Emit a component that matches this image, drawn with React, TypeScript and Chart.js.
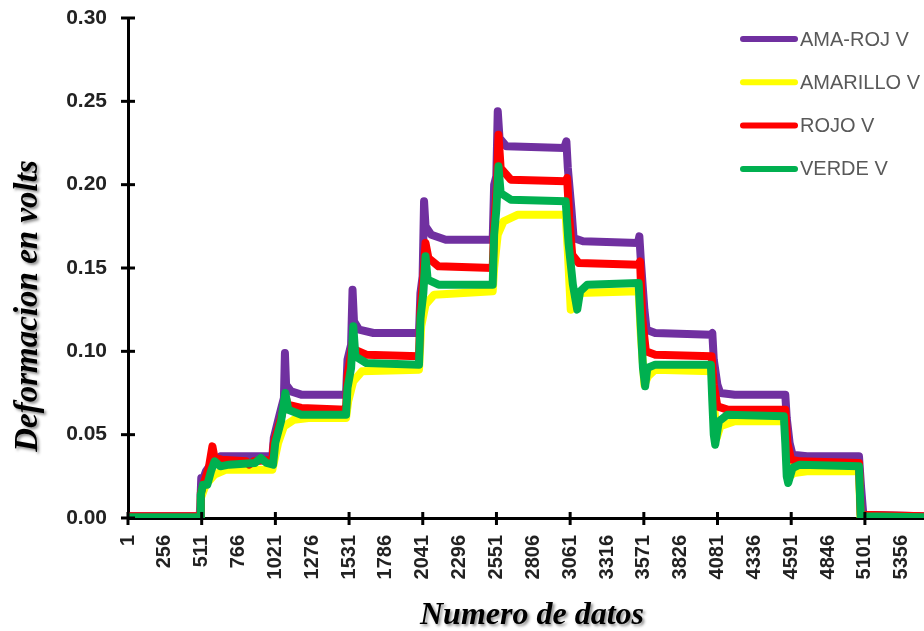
import React, { useEffect, useRef } from 'react';
import { Chart, registerables } from 'chart.js';

Chart.register(...registerables);

// ---- Axis data ----
const X_MIN = 1;
const X_MAX = 5510;
const X_TICK_LABELS = [1, 256, 511, 766, 1021, 1276, 1531, 1786, 2041, 2296, 2551, 2806, 3061, 3316, 3571, 3826, 4081, 4336, 4591, 4846, 5101, 5356];
const Y_MIN = 0;
const Y_MAX = 0.3;
const Y_STEP = 0.05;

const X_TITLE = 'Numero de datos';
const Y_TITLE = 'Deformacion en volts';

// ---- Series ----
const SERIES_NAMES = ['AMA-ROJ V', 'AMARILLO V', 'ROJO V', 'VERDE V'];
const SERIES_COLORS = ['#7030A0', '#FFFF00', '#FF0000', '#00B050'];

const AMA_ROJ_X = [1, 497, 503, 508, 515, 540, 580, 640, 1000, 1010, 1050, 1080, 1087, 1095, 1130, 1200, 1510, 1520, 1545, 1555, 1565, 1600, 1700, 2015, 2025, 2040, 2050, 2060, 2100, 2200, 2525, 2535, 2550, 2560, 2572, 2620, 3020, 3035, 3045, 3070, 3085, 3150, 3530, 3540, 3550, 3575, 3590, 3650, 4035, 4045, 4055, 4080, 4100, 4200, 4550, 4560, 4580, 4600, 4700, 5060, 5075, 5090, 5510];
const AMA_ROJ_Y = [0.001, 0.001, 0.012, 0.024, 0.022, 0.028, 0.033, 0.037, 0.037, 0.048, 0.062, 0.072, 0.099, 0.08, 0.076, 0.074, 0.074, 0.095, 0.104, 0.137, 0.118, 0.113, 0.111, 0.111, 0.135, 0.145, 0.19, 0.175, 0.17, 0.167, 0.167, 0.2, 0.205, 0.244, 0.228, 0.223, 0.222, 0.226, 0.21, 0.185, 0.168, 0.166, 0.165, 0.169, 0.155, 0.125, 0.113, 0.111, 0.11, 0.111, 0.095, 0.08, 0.075, 0.074, 0.074, 0.06, 0.045, 0.038, 0.037, 0.037, 0.018, 0.002, 0.001];

const AMARILLO_X = [1, 500, 505, 540, 600, 680, 1000, 1015, 1040, 1080, 1150, 1250, 1510, 1525, 1560, 1620, 2015, 2030, 2060, 2120, 2525, 2535, 2560, 2600, 2700, 3030, 3045, 3065, 3080, 3120, 3535, 3550, 3575, 3600, 3650, 4045, 4055, 4075, 4100, 4200, 4550, 4565, 4580, 4610, 4700, 5060, 5070, 5510];
const AMARILLO_Y = [0.0005, 0.0005, 0.012, 0.02, 0.026, 0.029, 0.029, 0.035, 0.045, 0.055, 0.059, 0.06, 0.06, 0.07, 0.082, 0.088, 0.089, 0.115, 0.128, 0.134, 0.136, 0.15, 0.17, 0.178, 0.182, 0.182, 0.16, 0.125, 0.13, 0.135, 0.136, 0.11, 0.08, 0.085, 0.089, 0.088, 0.07, 0.048, 0.055, 0.058, 0.058, 0.04, 0.025, 0.027, 0.028, 0.028, 0.001, 0.0005];

const ROJO_X = [1, 500, 505, 530, 560, 585, 600, 650, 820, 840, 870, 1000, 1010, 1060, 1095, 1105, 1200, 1510, 1520, 1555, 1570, 1650, 2015, 2025, 2045, 2060, 2080, 2150, 2525, 2535, 2555, 2565, 2580, 2650, 3030, 3040, 3055, 3075, 3120, 3535, 3545, 3560, 3585, 3650, 4040, 4055, 4080, 4150, 4550, 4565, 4590, 4650, 5060, 5072, 5510];
const ROJO_Y = [0.001, 0.001, 0.015, 0.022, 0.03, 0.043, 0.036, 0.035, 0.034, 0.032, 0.034, 0.035, 0.045, 0.06, 0.072, 0.068, 0.066, 0.065, 0.085, 0.105, 0.101, 0.098, 0.097, 0.125, 0.145, 0.165, 0.156, 0.151, 0.15, 0.175, 0.2, 0.23, 0.21, 0.203, 0.202, 0.204, 0.18, 0.158, 0.153, 0.152, 0.154, 0.12, 0.1, 0.098, 0.097, 0.08, 0.067, 0.065, 0.065, 0.045, 0.035, 0.034, 0.033, 0.002, 0.001];

const VERDE_X = [1, 500, 505, 520, 550, 575, 600, 640, 700, 880, 920, 960, 1005, 1020, 1060, 1090, 1110, 1200, 1510, 1520, 1545, 1560, 1575, 1650, 2015, 2025, 2045, 2060, 2075, 2150, 2525, 2535, 2550, 2565, 2580, 2650, 3030, 3050, 3080, 3110, 3130, 3180, 3535, 3550, 3565, 3580, 3595, 3650, 4035, 4045, 4055, 4065, 4090, 4150, 4540, 4550, 4560, 4570, 4600, 4650, 5060, 5072, 5510];
const VERDE_Y = [0.0005, 0.0005, 0.014, 0.02, 0.02, 0.028, 0.034, 0.031, 0.032, 0.033, 0.036, 0.033, 0.032, 0.045, 0.058, 0.075, 0.065, 0.062, 0.062, 0.078, 0.09, 0.115, 0.097, 0.093, 0.092, 0.12, 0.135, 0.157, 0.143, 0.14, 0.14, 0.17, 0.185, 0.211, 0.195, 0.191, 0.19, 0.165, 0.14, 0.125, 0.136, 0.14, 0.141, 0.115, 0.09, 0.079, 0.09, 0.092, 0.092, 0.07, 0.05, 0.044, 0.058, 0.062, 0.061, 0.045, 0.025, 0.021, 0.03, 0.032, 0.031, 0.001, 0.0005];

const SERIES_X = [AMA_ROJ_X, AMARILLO_X, ROJO_X, VERDE_X];
const SERIES_Y = [AMA_ROJ_Y, AMARILLO_Y, ROJO_Y, VERDE_Y];
const SERIES_ORDER = [4, 3, 2, 1];

const tickMarksPlugin = {
  id: 'tickMarks',
  afterDraw(chart: any) {
    const { ctx, scales } = chart;
    const x = scales.x;
    const y = scales.y;
    ctx.save();
    ctx.strokeStyle = '#000';
    ctx.lineWidth = 3;
    x.ticks.forEach((t: any, i: number) => {
      if (i % 2 !== 0) return;
      const px = x.getPixelForValue(t.value);
      ctx.beginPath();
      ctx.moveTo(px, y.bottom - 6);
      ctx.lineTo(px, y.bottom + 7);
      ctx.stroke();
    });
    y.ticks.forEach((t: any) => {
      const py = y.getPixelForValue(t.value);
      ctx.beginPath();
      ctx.moveTo(x.left - 7, py);
      ctx.lineTo(x.left + 7, py);
      ctx.stroke();
    });
    ctx.restore();
  },
};

const legendTitlesPlugin = {
  id: 'legendTitles',
  afterDraw(chart: any) {
    const { ctx } = chart;
    ctx.save();
    // legend
    chart.data.datasets.forEach((ds: any, i: number) => {
      const cy = 39 + i * 43.3;
      ctx.strokeStyle = ds.borderColor;
      ctx.lineWidth = 6;
      ctx.lineCap = 'round';
      ctx.beginPath();
      ctx.moveTo(743, cy);
      ctx.lineTo(795, cy);
      ctx.stroke();
      ctx.fillStyle = '#595959';
      ctx.font = '20px "Liberation Sans", Arial, sans-serif';
      ctx.textAlign = 'left';
      ctx.textBaseline = 'middle';
      ctx.fillText(ds.label, 800, cy + 1);
    });
    // axis titles with shadow
    ctx.fillStyle = '#000';
    ctx.shadowColor = 'rgba(0,0,0,0.45)';
    ctx.shadowOffsetX = 2;
    ctx.shadowOffsetY = 2;
    ctx.shadowBlur = 3;
    ctx.font = 'italic bold 32px "Liberation Serif", "Times New Roman", serif';
    ctx.textAlign = 'center';
    ctx.textBaseline = 'alphabetic';
    ctx.fillText(X_TITLE, 532, 624);
    ctx.font = 'italic bold 33px "Liberation Serif", "Times New Roman", serif';
    ctx.translate(37, 306);
    ctx.rotate(-Math.PI / 2);
    ctx.fillText(Y_TITLE, 0, 0);
    ctx.restore();
  },
};

export default function App() {
  const ref = useRef<HTMLCanvasElement | null>(null);

  useEffect(() => {
    document.body.style.margin = '0';
    const canvas = ref.current;
    if (!canvas) return;
    const datasets = SERIES_NAMES.map((name, i) => ({
      label: name,
      data: SERIES_X[i].map((x, j) => ({ x, y: SERIES_Y[i][j] })),
      borderColor: SERIES_COLORS[i],
      backgroundColor: SERIES_COLORS[i],
      borderWidth: 8,
      borderCapStyle: 'round' as const,
      borderJoinStyle: 'round' as const,
      pointRadius: 0,
      tension: 0,
      fill: false,
      order: SERIES_ORDER[i],
    }));
    const chart = new Chart(canvas, {
      type: 'line',
      data: { datasets },
      options: {
        animation: false,
        responsive: true,
        maintainAspectRatio: false,
        layout: { padding: { top: 18, right: 0, bottom: 0, left: 0 } },
        plugins: {
          legend: { display: false },
          tooltip: { enabled: false },
        },
        scales: {
          x: {
            type: 'linear',
            min: X_MIN,
            max: X_MAX,
            afterBuildTicks: (scale: any) => {
              scale.ticks = X_TICK_LABELS.map((v) => ({ value: v }));
            },
            afterFit: (scale: any) => {
              scale.height = 113;
              scale.paddingLeft = 0;
              scale.paddingRight = 0;
            },
            ticks: {
              autoSkip: false,
              minRotation: 90,
              maxRotation: 90,
              padding: 17,
              color: '#222',
              font: { family: '"Liberation Sans", Arial, sans-serif', size: 20, weight: 'bold' },
              callback: (v: any) => String(v),
            },
            grid: { drawOnChartArea: false, drawTicks: false },
            border: { display: true, color: '#000', width: 3 },
          },
          y: {
            type: 'linear',
            min: Y_MIN,
            max: Y_MAX,
            afterFit: (scale: any) => {
              scale.width = 128;
              scale.paddingTop = 0;
              scale.paddingBottom = 0;
            },
            ticks: {
              stepSize: Y_STEP,
              padding: 21,
              color: '#222',
              font: { family: '"Liberation Sans", Arial, sans-serif', size: 21, weight: 'bold' },
              callback: (v: any) => Number(v).toFixed(2),
            },
            grid: { drawOnChartArea: false, drawTicks: false },
            border: { display: true, color: '#000', width: 3 },
          },
        },
      },
      plugins: [tickMarksPlugin, legendTitlesPlugin],
    });
    return () => chart.destroy();
  }, []);

  return (
    <div style={{ width: 924, height: 631, position: 'relative' }}>
      <canvas ref={ref} />
    </div>
  );
}
